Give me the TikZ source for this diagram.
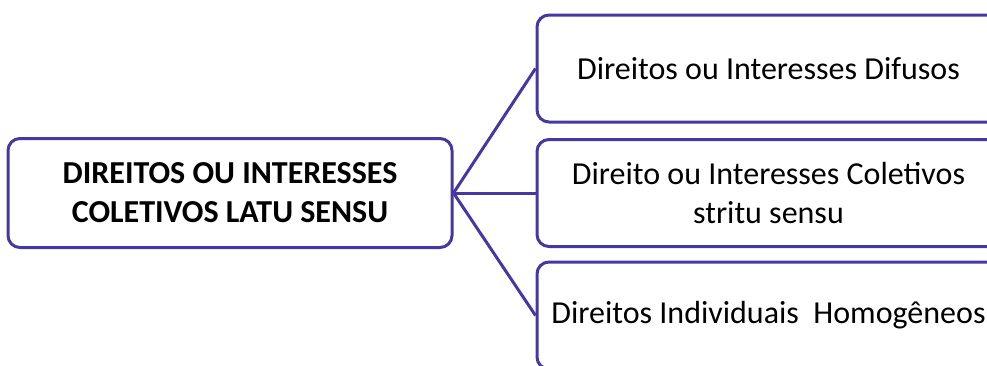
\documentclass[tikz,border=0pt]{standalone}
\usepackage{fontspec}
\setmainfont{Carlito}
\definecolor{boxline}{RGB}{70,56,162}
\tikzset{
  mainbox/.style={draw=boxline, rounded corners=9pt, align=center, inner sep=0pt,
    minimum width=333pt, minimum height=81.75pt,
    font=\fontsize{24}{29.3}\selectfont\bfseries},
  itembox/.style={draw=boxline, rounded corners=9pt, align=center, inner sep=0pt,
    minimum width=347.25pt, minimum height=80.25pt,
    font=\fontsize{24}{29.3}\selectfont}
}
\begin{document}
\begin{tikzpicture}[x=0.75pt, y=-0.75pt, line width=2.25pt]
\clip (0,0) rectangle (987,365);
\node[mainbox] (latu) at (230,193) {DIREITOS OU INTERESSES\\COLETIVOS LATU SENSU};
\node[itembox] (difusos) at (768.5,68.5) {Direitos ou Interesses Difusos};
\node[itembox] (coletivos) at (768.5,193) {Direito ou Interesses Coletivos\\stritu sensu};
\node[itembox] (homogeneos) at (768.5,315.5) {Direitos Individuais\ \ Homogêneos};
\draw[boxline] (latu.east) -- (difusos.west);
\draw[boxline] (latu.east) -- (coletivos.west);
\draw[boxline] (latu.east) -- (homogeneos.west);
\end{tikzpicture}
\end{document}
